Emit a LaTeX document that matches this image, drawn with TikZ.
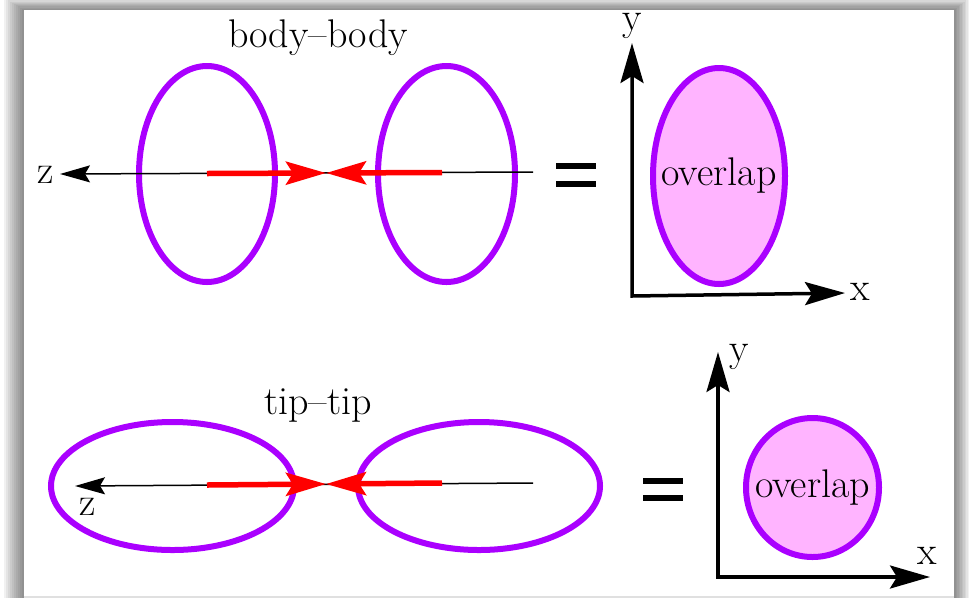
\documentclass[tikz,border=0pt]{standalone}
\usetikzlibrary{arrows.meta,shapes.geometric}
\definecolor{lila}{RGB}{170,0,255}
\definecolor{rosa}{RGB}{255,180,255}
\begin{document}
\begin{tikzpicture}[x=1pt,y=-1pt,
  lbl/.style={font=\fontsize{40}{44}\selectfont, inner sep=0pt},
  body/.style={draw=lila, line width=6pt, ellipse, inner sep=0pt},
  zaxis/.style={line width=1.5pt, -{Stealth[length=30pt,width=17pt,inset=5pt]}},
  redarr/.style={red, line width=5.5pt, -{Stealth[length=40pt,width=23pt,inset=7pt]}},
  axis/.style={line width=3.5pt, {Stealth[length=40pt,width=23pt,inset=7pt]}-{Stealth[length=40pt,width=23pt,inset=7pt]}},
  eqbar/.style={fill=black}]
\useasboundingbox (0,0) rectangle (973,598);
% frame with shadow
\foreach \k in {1,...,10}
  \fill[black, opacity=0.055] (24-2*\k, 10-1.2*\k) rectangle (954+1.5*\k, 598);
\fill[white] (24,10) rectangle (954,596);
\fill[black!12] (24,596) rectangle (954,598);

% ---------- top row: body-body ----------
\node[lbl] (t1) at (318,38) {body--body};
\node[body, minimum width=136pt, minimum height=216pt] (b1) at (207,174) {};
\node[body, minimum width=137pt, minimum height=216pt] (b2) at (446.5,174) {};
\coordinate (z1tip) at (60,174);
\coordinate (z1end) at (533,172);
\coordinate (m1) at (326,173);
\coordinate (r1a) at (207,173.5);
\coordinate (r1b) at (442,172.5);
\draw[zaxis] (z1end) -- (z1tip);
\node[lbl] (z1) at (46,175) {z};
\draw[redarr] (r1a) -- (m1);
\draw[redarr] (r1b) -- (m1);
\fill[eqbar] (556,163) rectangle (596,169);
\fill[eqbar] (556,181) rectangle (596,187);
% overlap 1
\node[body, fill=rosa, minimum width=132pt, minimum height=216pt] (ov1) at (719,176) {};
\node[lbl] (ovt1) at (ov1.center) {overlap};
\coordinate (o1) at (632,296);
\coordinate (y1tip) at (632,43);
\coordinate (x1tip) at (845,293);
\draw[axis] (y1tip) -- (o1) -- (x1tip);
\node[lbl] (ly1) at (632,26) {y};
\node[lbl] (lx1) at (860,292) {x};

% ---------- bottom row: tip-tip ----------
\node[lbl] (t2) at (318,405) {tip--tip};
\node[body, minimum width=243pt, minimum height=128pt] (b3) at (172.5,486) {};
\node[body, minimum width=242pt, minimum height=128pt] (b4) at (479,486) {};
\coordinate (z2tip) at (75,486);
\coordinate (z2end) at (533,483);
\coordinate (m2) at (326,484);
\coordinate (r2a) at (207,485);
\coordinate (r2b) at (442,483);
\draw[zaxis] (z2end) -- (z2tip);
\node[lbl] (z2) at (88,507) {z};
\draw[redarr] (r2a) -- (m2);
\draw[redarr] (r2b) -- (m2);
\fill[eqbar] (643,478) rectangle (683,484);
\fill[eqbar] (643,495) rectangle (683,501);
% overlap 2
\node[body, fill=rosa, minimum width=133pt, minimum height=139pt] (ov2) at (812.5,487.5) {};
\node[lbl] (ovt2) at (ov2.center) {overlap};
\coordinate (o2) at (718,577);
\coordinate (y2tip) at (718,352);
\coordinate (x2tip) at (930,577);
\draw[axis] (y2tip) -- (o2) -- (x2tip);
\node[lbl] (ly2) at (739,357) {y};
\node[lbl] (lx2) at (927,556) {x};
\end{tikzpicture}
\end{document}
